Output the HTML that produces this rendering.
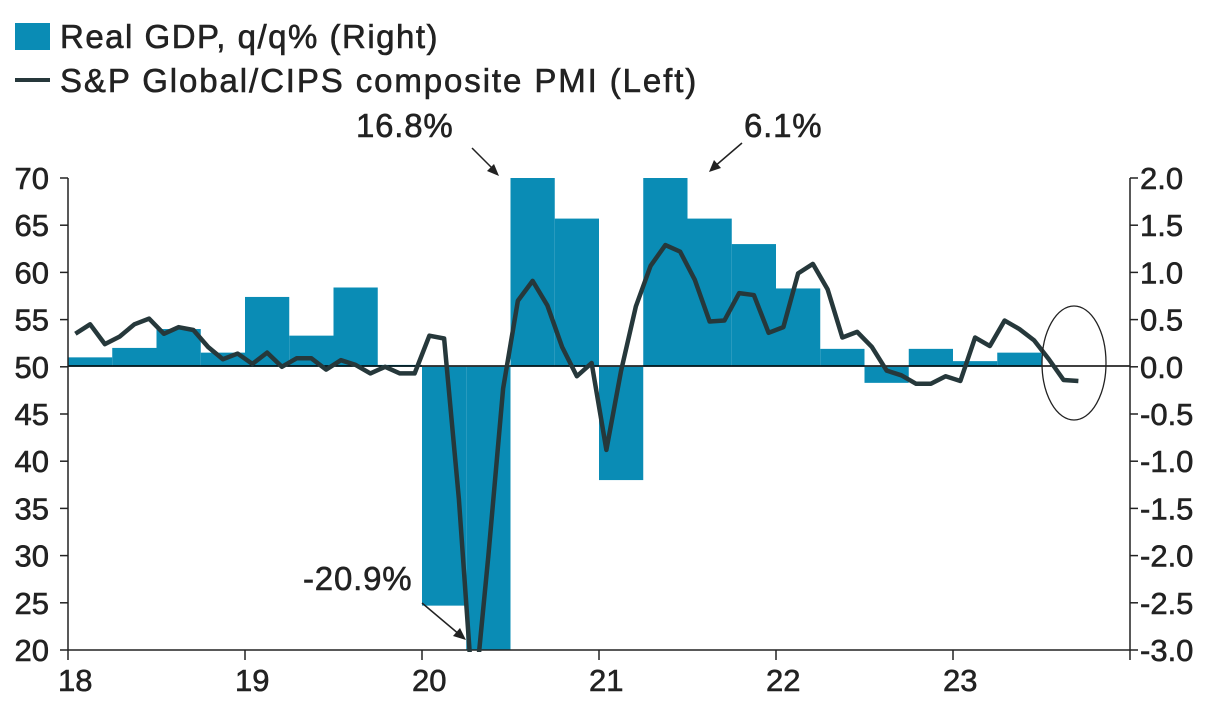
<!DOCTYPE html>
<html><head><meta charset="utf-8"><style>
body{margin:0;background:#fff;}
svg text{font-family:"Liberation Sans",sans-serif;fill:#222;stroke:#222;stroke-width:0.6px;}
</style></head><body>
<svg width="1224" height="712" id="c">
<defs><clipPath id="pc"><rect x="68" y="170" width="1062" height="482"/></clipPath></defs>
<g>
<rect x="15" y="23" width="35" height="27" fill="#0a8cb5"/>
<text x="60" y="48" font-size="33" letter-spacing="1.5">Real GDP, q/q% (Right)</text>
<line x1="15" y1="80" x2="50" y2="80" stroke="#26383b" stroke-width="4"/>
<text x="60" y="92" font-size="33" letter-spacing="1.9">S&amp;P Global/CIPS composite PMI (Left)</text>
</g>
<g id="bars"></g>
<line x1="68" y1="366" x2="1130" y2="366" stroke="#000" stroke-width="1.5"/>
<g id="axes"></g>
<polyline id="pmi" clip-path="url(#pc)" fill="none" stroke="#26383b" stroke-width="4.5" stroke-linejoin="round"/>
<ellipse cx="1074" cy="363" rx="32" ry="57" fill="none" stroke="#222" stroke-width="1.3"/>
<g>
<text x="356" y="137" font-size="33" letter-spacing="0.8">16.8%</text>
<line x1="472" y1="148" x2="496" y2="172" stroke="#222" stroke-width="1.5"/>
<polygon points="499,176 487,171 494,164" fill="#222"/>
<text x="744" y="137" font-size="33" letter-spacing="0.8">6.1%</text>
<line x1="742" y1="143" x2="714" y2="167" stroke="#222" stroke-width="1.5"/>
<polygon points="709,172 714,160 721,168" fill="#222"/>
<text x="303" y="590" font-size="33" letter-spacing="0.8">-20.9%</text>
<line x1="422" y1="603" x2="460" y2="635" stroke="#222" stroke-width="1.5"/>
<polygon points="466,640 453,636 460,628" fill="#222"/>
</g>
</svg>
<script>
const gdpQuarters=['18Q1','18Q2','18Q3','18Q4','19Q1','19Q2','19Q3','19Q4','20Q1','20Q2','20Q3','20Q4','21Q1','21Q2','21Q3','21Q4','22Q1','22Q2','22Q3','22Q4','23Q1','23Q2','23Q3'];
const gdpValues=[0.1,0.2,0.4,0.15,0.74,0.33,0.84,0.02,-2.53,-20.9,16.8,1.57,-1.2,6.1,1.57,1.3,0.83,0.19,-0.17,0.19,0.06,0.15];
const pmiValues=[53.5,54.5,52.4,53.2,54.5,55.1,53.5,54.2,53.9,52.1,50.8,51.4,
50.3,51.5,50.0,50.9,50.9,49.7,50.7,50.2,49.3,50.0,49.3,49.3,
53.3,53.0,36.0,13.8,30.0,47.7,57.0,59.1,56.5,52.1,49.0,50.4,
41.2,49.6,56.4,60.7,62.9,62.2,59.2,54.8,54.9,57.8,57.6,53.6,
54.2,59.9,60.9,58.2,53.1,53.7,52.1,49.6,49.1,48.2,48.2,49.0,
48.5,53.1,52.2,54.9,54.0,52.8,50.8,48.6,48.5];
const leftTicks=[20,25,30,35,40,45,50,55,60,65,70];
const rightTicks=['-3.0','-2.5','-2.0','-1.5','-1.0','-0.5','0.0','0.5','1.0','1.5','2.0'];
const yearLabels=['18','19','20','21','22','23'];
const X0=68,YW=177,T=178,B=650;
const yL=v=>T+(70-v)/50*(B-T);
const yR=v=>T+(2-v)/5*(B-T);
const xM=m=>X0+(m+0.5)*YW/12;
const xQ=q=>X0+q*YW/4;
const ns='http://www.w3.org/2000/svg';
function mk(t,a,p){const e=document.createElementNS(ns,t);for(const k in a)e.setAttribute(k,a[k]);p.appendChild(e);return e;}
const bars=document.getElementById('bars'),axes=document.getElementById('axes');
gdpValues.forEach((v,i)=>{const c=Math.max(-3,Math.min(2,v));const y0=yR(0),y1=yR(c);
const r=mk('rect',{x:xQ(i),y:Math.min(y0,y1),width:YW/4,height:Math.abs(y1-y0),fill:'#0a8cb5'},bars);

});
const pts=pmiValues.map((v,i)=>xM(i)+','+yL(v));
document.getElementById('pmi').setAttribute('points',pts.join(' '));
mk('line',{x1:X0,y1:T,x2:X0,y2:B,stroke:'#222','stroke-width':1.5},axes);
mk('line',{x1:1130,y1:T,x2:1130,y2:B,stroke:'#222','stroke-width':1.5},axes);
mk('line',{x1:X0,y1:B,x2:1130,y2:B,stroke:'#222','stroke-width':1.5},axes);
leftTicks.forEach(v=>{const y=yL(v);mk('line',{x1:X0-8,y1:y,x2:X0,y2:y,stroke:'#222','stroke-width':1.5},axes);
const t=mk('text',{x:49,y:y+11,'font-size':31,'text-anchor':'end'},axes);t.textContent=v;

});
rightTicks.forEach(v=>{const y=yR(parseFloat(v));mk('line',{x1:1130,y1:y,x2:1138,y2:y,stroke:'#222','stroke-width':1.5},axes);
const t=mk('text',{x:1140,y:y+11,'font-size':31},axes);t.textContent=v;

});
for(let i=0;i<=6;i++){const x=X0+i*YW;mk('line',{x1:x,y1:B,x2:x,y2:B+10,stroke:'#222','stroke-width':1.5},axes);
if(i<6){const t=mk('text',{x:x-10,y:B+41,'font-size':31},axes);t.textContent=yearLabels[i];

}}
</script>
</body></html>
